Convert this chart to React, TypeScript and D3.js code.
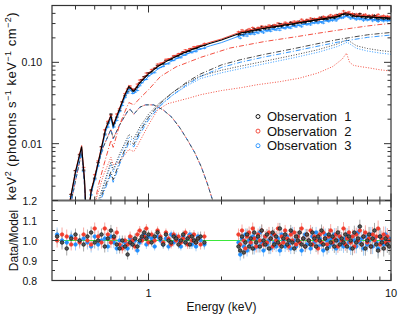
import React from 'react';
import * as d3 from 'd3';

// ---------- layout ----------
const W = 399, H = 319;
const X0 = 52, X1 = 391;
const TY0 = 5.5, TY1 = 200.5;
const BY0 = 200.5, BY1 = 280.5;

// ---------- axes / ticks ----------
const xMajorTicks = [1, 10];
const xTickLabels = ['1', '10'];
const xMinorTicks = [0.5, 0.6, 0.7, 0.8, 0.9, 2, 3, 4, 5, 6, 7, 8, 9];
const yTopMajor = [0.01, 0.1];
const yTopLabels = ['0.01', '0.10'];
const yTopMinor = [0.002, 0.003, 0.004, 0.005, 0.006, 0.007, 0.008, 0.009, 0.02, 0.03, 0.04, 0.05, 0.06, 0.07, 0.08, 0.09, 0.2, 0.3, 0.4];
const yBotMajor = [0.8, 0.9, 1.0, 1.1, 1.2];
const yBotLabels = ['0.8', '0.9', '1.0', '1.1', '1.2'];
const yBotMinor = [0.85, 0.95, 1.05, 1.15];

// ---------- series ----------
const obsNames = ['Observation  1', 'Observation  2', 'Observation  3'];
const obsColors = ['#000000', '#f23c2c', '#1f8fff'];
const obsErrColors = ['#a8a8a8', '#f7a8a2', '#a4cef7'];
const obsNorm = [1.0, 1.03, 0.93];

// total model (keV^2 photons s^-1 keV^-1 cm^-2)
const totalModel: [number, number][] = [
  [0.46, 0.0012], [0.50, 0.0045], [0.53, 0.0092], [0.545, 0.0035], [0.553, 0.0013], [0.565, 0.0013],
  [0.58, 0.0026], [0.60, 0.0038], [0.63, 0.0072], [0.665, 0.0150], [0.70, 0.0220], [0.715, 0.0165],
  [0.75, 0.0240], [0.80, 0.0400], [0.83, 0.0505], [0.87, 0.0440], [0.92, 0.0560], [1.00, 0.0720],
  [1.10, 0.0900], [1.20, 0.1050], [1.35, 0.1250], [1.50, 0.1430], [1.64, 0.1570], [1.80, 0.1720],
  [2.00, 0.1880], [2.40, 0.2300], [3.00, 0.2620], [4.00, 0.3000], [5.00, 0.3350], [6.00, 0.3650],
  [6.40, 0.3950], [6.70, 0.3900], [7.10, 0.3720], [8.00, 0.3620], [9.00, 0.3550], [10.0, 0.3500],
];

// soft component (dashed, all observations)
const softComp: [number, number][] = [
  [0.46, 0.0010], [0.50, 0.0035], [0.53, 0.0078], [0.545, 0.0030], [0.553, 0.0012], [0.562, 0.0012],
  [0.58, 0.0026], [0.60, 0.0040], [0.65, 0.0090], [0.70, 0.0150], [0.715, 0.0115], [0.76, 0.0170],
  [0.82, 0.0250], [0.84, 0.0265], [0.87, 0.0230], [0.92, 0.0280], [0.97, 0.0300], [1.05, 0.0300],
  [1.15, 0.0260], [1.25, 0.0210], [1.35, 0.0155], [1.45, 0.0110], [1.55, 0.0078], [1.65, 0.0052],
  [1.75, 0.0032], [1.85, 0.0019], [1.95, 0.0011],
];

// hard dotted component (obs 1 & 3)
const hardDotted: [number, number][] = [
  [0.60, 0.0015], [0.65, 0.0030], [0.70, 0.0060], [0.715, 0.0048], [0.76, 0.0075], [0.83, 0.0130],
  [0.87, 0.0115], [0.92, 0.0160], [1.00, 0.0230], [1.10, 0.0310], [1.25, 0.0420], [1.45, 0.0560],
  [1.64, 0.0680], [2.00, 0.0800], [2.40, 0.0900], [3.00, 0.1030], [4.00, 0.1230], [5.00, 0.1430],
  [6.00, 0.1680], [6.60, 0.1900], [7.20, 0.1600], [8.00, 0.1480], [9.00, 0.1400], [10.0, 0.1350],
];

// hard dash-dot component (obs 1 & 3)
const hardDashDot: [number, number][] = [
  [0.62, 0.0018], [0.70, 0.0045], [0.715, 0.0036], [0.76, 0.0060], [0.83, 0.0110], [0.87, 0.0098],
  [0.92, 0.0140], [1.00, 0.0210], [1.10, 0.0300], [1.25, 0.0420], [1.45, 0.0580], [1.64, 0.0720],
  [2.00, 0.0930], [2.40, 0.1080], [3.00, 0.1250], [4.00, 0.1480], [5.00, 0.1700], [6.00, 0.1900],
  [7.00, 0.2050], [8.00, 0.2180], [9.00, 0.2260], [10.0, 0.2330],
];

// obs 2 components
const redDashDot: [number, number][] = [
  [0.60, 0.0018], [0.62, 0.0030], [0.66, 0.0060], [0.70, 0.0110], [0.715, 0.0090], [0.76, 0.0170],
  [0.80, 0.0250], [0.83, 0.0320], [0.87, 0.0300], [0.92, 0.0360], [1.00, 0.0460], [1.12, 0.0670],
  [1.30, 0.0880], [1.64, 0.1150], [2.17, 0.1500], [3.00, 0.1800], [4.00, 0.2050], [5.00, 0.2280],
  [6.00, 0.2480], [7.00, 0.2650], [8.00, 0.2800], [9.00, 0.2920], [10.0, 0.3000],
];
const redDotted: [number, number][] = [
  [0.60, 0.0018], [0.65, 0.0040], [0.70, 0.0068], [0.715, 0.0055], [0.76, 0.0060], [0.83, 0.0085],
  [0.87, 0.0080], [0.90, 0.0094], [1.00, 0.0170], [1.09, 0.0260], [1.20, 0.0310], [1.35, 0.0340],
  [1.50, 0.0370], [1.64, 0.0400], [2.00, 0.0450], [2.40, 0.0487], [2.80, 0.0530], [3.50, 0.0580],
  [4.20, 0.0640], [5.00, 0.0740], [5.76, 0.0890], [6.30, 0.1100], [6.55, 0.1300], [6.75, 0.1000],
  [7.00, 0.0920], [7.40, 0.0890], [8.00, 0.0860], [9.00, 0.0810], [10.0, 0.0780],
];

// data energies (keV)
const energyLo = [
  0.42, 0.44, 0.46, 0.48, 0.50, 0.52, 0.54, 0.56, 0.58, 0.60,
  0.62, 0.64, 0.66, 0.68, 0.70, 0.72, 0.74, 0.76, 0.78, 0.80,
  0.82, 0.84, 0.86, 0.88, 0.90, 0.92, 0.94, 0.96, 0.98, 1.00,
  1.03, 1.06, 1.09, 1.12, 1.15, 1.18, 1.21, 1.24, 1.27, 1.30,
  1.33, 1.36, 1.39, 1.42, 1.45, 1.48, 1.51, 1.54, 1.57, 1.60,
  1.64, 1.70,
];
const energyHi = [
  2.35, 2.39, 2.43, 2.47, 2.51, 2.55, 2.60, 2.64, 2.69, 2.73,
  2.78, 2.83, 2.88, 2.93, 2.98, 3.03, 3.08, 3.14, 3.19, 3.25,
  3.30, 3.36, 3.42, 3.48, 3.54, 3.60, 3.66, 3.73, 3.79, 3.86,
  3.92, 3.99, 4.06, 4.13, 4.20, 4.28, 4.35, 4.43, 4.50, 4.58,
  4.66, 4.74, 4.83, 4.91, 5.00, 5.08, 5.17, 5.26, 5.35, 5.45,
  5.54, 5.64, 5.74, 5.84, 5.94, 6.04, 6.15, 6.26, 6.37, 6.48,
  6.59, 6.71, 6.82, 6.94, 7.06, 7.19, 7.31, 7.44, 7.57, 7.70,
  7.84, 7.98, 8.12, 8.26, 8.40, 8.55, 8.70, 8.85, 9.01, 9.17,
  9.33, 9.50, 9.66, 9.83,
];

// data/model ratios
const ratioLo1 = [
  1.02, 0.99, 0.96, 1.01, 1.03, 1.00, 0.98, 1.02, 1.04, 0.99,
  1.00, 1.03, 0.97, 1.01, 1.05, 1.02, 0.98, 0.96, 1.00, 0.97,
  0.93, 0.99, 0.98, 1.01, 0.97, 1.00, 1.02, 1.04, 1.01, 1.03,
  0.99, 1.02, 1.04, 1.01, 0.98, 1.03, 1.00, 0.99, 1.02, 1.01,
  0.98, 1.00, 1.03, 0.99, 1.01, 0.98, 1.02, 1.00, 0.99, 1.01,
  1.02, 0.99,
];
const ratioLo2 = [
  1.00, 1.03, 1.02, 0.98, 1.01, 0.99, 1.03, 1.00, 0.98, 1.06,
  1.02, 0.99, 1.06, 1.03, 0.99, 1.01, 1.04, 0.98, 0.96, 1.00,
  0.98, 1.02, 1.00, 0.97, 1.03, 1.05, 1.00, 1.02, 1.06, 0.99,
  1.03, 1.00, 1.05, 1.02, 0.99, 1.04, 1.01, 0.98, 1.03, 1.00,
  1.02, 0.99, 1.01, 1.04, 0.98, 1.02, 1.00, 1.03, 0.99, 1.01,
  0.98, 1.02,
];
const ratioLo3 = [
  1.03, 1.00, 0.99, 1.02, 0.98, 1.00, 1.01, 0.99, 0.97, 1.02,
  0.98, 1.00, 1.01, 0.97, 1.02, 0.99, 0.96, 1.00, 0.97, 0.99,
  0.96, 1.01, 0.98, 1.00, 0.95, 0.99, 1.01, 1.03, 0.98, 1.02,
  1.01, 0.97, 1.02, 1.00, 0.98, 1.01, 0.97, 1.03, 0.99, 1.02,
  1.00, 0.97, 1.02, 0.99, 1.01, 1.03, 0.98, 1.00, 0.97, 1.02,
  1.00, 0.98,
];
const ratioHi1 = [
  0.97, 0.95, 1.02, 0.94, 0.99, 1.03, 0.97, 1.01, 0.96, 1.04,
  0.99, 1.02, 0.97, 1.05, 1.00, 0.98, 1.03, 0.96, 1.01, 1.04,
  0.98, 1.02, 0.99, 1.06, 0.97, 1.01, 1.03, 0.98, 1.00, 1.05,
  0.99, 0.96, 1.02, 1.00, 1.04, 0.98, 1.01, 0.97, 1.03, 1.00,
  0.98, 1.04, 1.01, 0.97, 1.02, 1.00, 1.05, 0.98, 1.01, 0.96,
  1.03, 0.99, 1.02, 0.97, 1.00, 1.04, 0.98, 1.01, 0.99, 1.03,
  0.97, 1.02, 1.00, 0.96, 1.04, 0.99, 1.01, 1.07, 0.98, 1.02,
  0.96, 1.00, 1.03, 0.97, 1.01, 1.05, 0.98, 0.95, 1.02, 0.99,
  0.96, 1.01, 0.98, 0.97,
];
const ratioHi2 = [
  1.03, 0.98, 1.05, 1.00, 0.96, 1.02, 1.04, 0.99, 1.06, 1.01,
  0.97, 1.03, 1.00, 1.05, 0.98, 1.02, 0.99, 1.04, 1.01, 0.97,
  1.03, 1.00, 1.06, 0.98, 1.02, 0.99, 1.05, 1.01, 0.97, 1.03,
  1.00, 1.04, 0.98, 1.02, 0.99, 1.06, 1.01, 0.97, 1.03, 1.00,
  1.05, 0.98, 1.02, 1.00, 0.96, 1.03, 0.99, 1.04, 1.01, 0.98,
  1.02, 1.05, 0.99, 1.01, 1.03, 0.97, 1.02, 1.00, 1.06, 0.98,
  1.01, 1.04, 0.99, 1.02, 0.97, 1.03, 1.00, 1.05, 0.98, 1.02,
  1.04, 0.99, 1.01, 0.97, 1.03, 1.00, 1.02, 1.06, 0.98, 1.01,
  1.03, 0.99, 1.02, 1.00,
];
const ratioHi3 = [
  0.99, 0.93, 1.01, 0.97, 1.03, 0.95, 1.00, 0.98, 1.02, 0.96,
  1.01, 0.97, 1.04, 0.99, 0.95, 1.02, 0.98, 1.00, 0.96, 1.03,
  0.99, 0.97, 1.01, 0.95, 1.03, 1.00, 0.97, 1.02, 0.98, 0.96,
  1.04, 1.00, 0.97, 1.02, 0.99, 0.95, 1.01, 1.03, 0.98, 1.00,
  0.96, 1.02, 0.99, 1.04, 0.97, 1.01, 0.98, 0.95, 1.03, 1.00,
  0.97, 1.01, 0.98, 1.03, 0.96, 1.00, 1.02, 0.98, 0.97, 1.01,
  1.03, 0.99, 0.96, 1.02, 1.00, 0.97, 1.04, 0.99, 1.01, 0.96,
  1.02, 0.98, 1.00, 1.03, 0.97, 1.01, 0.99, 0.96, 1.02, 1.00,
  0.98, 1.03, 0.99, 1.01,
];

// 1-sigma ratio errors
const errLo = [
  0.035, 0.035, 0.035, 0.030, 0.030, 0.030, 0.035, 0.035, 0.030, 0.030,
  0.030, 0.030, 0.030, 0.028, 0.028, 0.028, 0.028, 0.025, 0.025, 0.025,
  0.025, 0.025, 0.025, 0.025, 0.022, 0.022, 0.022, 0.022, 0.022, 0.020,
  0.020, 0.020, 0.020, 0.020, 0.020, 0.020, 0.020, 0.020, 0.020, 0.020,
  0.020, 0.020, 0.020, 0.020, 0.022, 0.022, 0.022, 0.022, 0.024, 0.024,
  0.025, 0.025,
];
const errHi = [
  0.030, 0.030, 0.030, 0.030, 0.030, 0.030, 0.030, 0.030, 0.030, 0.030,
  0.030, 0.030, 0.030, 0.030, 0.030, 0.028, 0.028, 0.028, 0.028, 0.028,
  0.028, 0.028, 0.028, 0.028, 0.028, 0.028, 0.028, 0.028, 0.028, 0.028,
  0.028, 0.028, 0.028, 0.028, 0.028, 0.028, 0.028, 0.028, 0.028, 0.028,
  0.028, 0.028, 0.028, 0.028, 0.030, 0.030, 0.030, 0.030, 0.030, 0.030,
  0.032, 0.032, 0.032, 0.032, 0.032, 0.032, 0.032, 0.032, 0.032, 0.032,
  0.032, 0.032, 0.032, 0.034, 0.034, 0.034, 0.034, 0.034, 0.036, 0.036,
  0.036, 0.036, 0.038, 0.038, 0.038, 0.038, 0.038, 0.040, 0.040, 0.040,
  0.040, 0.040, 0.042, 0.042,
];

// ---------- helpers ----------
function modelAt(pts: [number, number][], E: number): number {
  if (E <= pts[0][0]) return pts[0][1];
  for (let i = 1; i < pts.length; i++) {
    if (E <= pts[i][0]) {
      const [e0, v0] = pts[i - 1];
      const [e1, v1] = pts[i];
      const t = Math.log(E / e0) / Math.log(e1 / e0);
      return Math.exp(Math.log(v0) + t * Math.log(v1 / v0));
    }
  }
  return pts[pts.length - 1][1];
}

const FONT = '"Liberation Sans", Arial, Helvetica, sans-serif';

export default function App() {
  const x = d3.scaleLog().domain([0.4, 10]).range([X0, X1]);
  const yT = d3.scaleLog().domain([0.002, 0.5]).range([TY1, TY0]);
  const yB = d3.scaleLinear().domain([0.8, 1.2]).range([BY1, BY0]);

  const line = (pts: [number, number][], k = 1) =>
    d3.line<[number, number]>()
      .x(d => x(d[0]))
      .y(d => yT(Math.max(d[1] * k, 1e-4)))(pts) || '';

  const energies = [...energyLo, ...energyHi];
  const ratios = [
    [...ratioLo1, ...ratioHi1],
    [...ratioLo2, ...ratioHi2],
    [...ratioLo3, ...ratioHi3],
  ];
  const errs = [...errLo, ...errHi];

  const drawOrder = [2, 1, 0];

  const comps: { d: string; color: string; dash: string; off?: number }[] = [
    { d: line(softComp), color: obsColors[1], dash: '3,4', off: 3 },
    { d: line(softComp), color: obsColors[2], dash: '3,4', off: 1.5 },
    { d: line(softComp), color: '#3a3a3a', dash: '3,4', off: 0 },
    { d: line(redDotted), color: obsColors[1], dash: '1,1.6' },
    { d: line(redDashDot), color: obsColors[1], dash: '5,2,1,2' },
    { d: line(hardDotted, obsNorm[2]), color: obsColors[2], dash: '1,1.6' },
    { d: line(hardDashDot, obsNorm[2]), color: obsColors[2], dash: '5,2,1,2' },
    { d: line(hardDotted), color: '#333', dash: '1,1.6' },
    { d: line(hardDashDot), color: '#333', dash: '5,2,1,2' },
  ];

  const axisColor = '#333';

  return (
    <svg width={W} height={H} style={{ position: 'absolute', left: 0, top: 0, background: '#fff' }}
      fontFamily={FONT}>
      <defs>
        <clipPath id="clipTop"><rect x={X0} y={TY0} width={X1 - X0} height={TY1 - TY0} /></clipPath>
        <clipPath id="clipBot"><rect x={X0} y={BY0} width={X1 - X0} height={BY1 - BY0} /></clipPath>
      </defs>

      {/* ---------- top panel ---------- */}
      <g clipPath="url(#clipTop)">
        {comps.map((c, i) => (
          <path key={i} d={c.d} fill="none" stroke={c.color} strokeWidth={0.9}
            strokeDasharray={c.dash} strokeDashoffset={c.off || 0} />
        ))}
        {drawOrder.map(o => (
          <g key={'td' + o} stroke={obsColors[o]} strokeWidth={0.8}>
            {energies.map((E, i) => {
              const m = modelAt(totalModel, E) * obsNorm[o];
              const v = m * ratios[o][i];
              const e = m * errs[i];
              const cx = x(E), cy = yT(v);
              return (
                <g key={i}>
                  <line x1={cx} x2={cx} y1={yT(Math.max(v - e, 1e-4))} y2={yT(v + e)} />
                  <line x1={cx - 1.8} x2={cx + 1.8} y1={cy} y2={cy} />
                </g>
              );
            })}
          </g>
        ))}
        {drawOrder.map(o => (
          <path key={'tm' + o} d={line(totalModel, obsNorm[o])} fill="none"
            stroke={obsColors[o]} strokeWidth={o === 0 ? 1.1 : 0.9} />
        ))}
      </g>

      {/* ---------- bottom panel ---------- */}
      <g clipPath="url(#clipBot)">
        {drawOrder.map(o => (
          <g key={'be' + o} stroke={obsErrColors[o]} strokeWidth={1}>
            {energies.map((E, i) => {
              const cx = x(E);
              const r = ratios[o][i];
              return (
                <g key={i}>
                  <line x1={cx} x2={cx} y1={yB(r - errs[i])} y2={yB(r + errs[i])} />
                  <line x1={cx - 1.6} x2={cx + 1.6} y1={yB(r)} y2={yB(r)} />
                </g>
              );
            })}
          </g>
        ))}
        <line x1={X0} x2={X1} y1={yB(1)} y2={yB(1)} stroke="#3be83b" strokeWidth={1.2} />
        {drawOrder.map(o => (
          <g key={'bm' + o}>
            {energies.map((E, i) => (
              <circle key={i} cx={x(E)} cy={yB(ratios[o][i])} r={1.8}
                fill={o === 0 ? '#555' : obsColors[o]} stroke={o === 0 ? '#111' : obsColors[o]} strokeWidth={0.7} />
            ))}
          </g>
        ))}
      </g>

      {/* ---------- frames ---------- */}
      <rect x={X0} y={TY0} width={X1 - X0} height={BY1 - TY0} fill="none" stroke={axisColor} strokeWidth={1.2} />
      <line x1={X0} x2={X1} y1={BY0} y2={BY0} stroke="#666" strokeWidth={2} />

      {/* x ticks */}
      {[...xMajorTicks.map(v => ({ v, L: 7 })), ...xMinorTicks.map(v => ({ v, L: 4 }))].map((t, i) => {
        const px = x(t.v);
        return (
          <g key={'xt' + i} stroke={axisColor} strokeWidth={1}>
            <line x1={px} x2={px} y1={TY0} y2={TY0 + t.L} />
            <line x1={px} x2={px} y1={TY1} y2={TY1 - t.L} />
            <line x1={px} x2={px} y1={BY0} y2={BY0 + t.L} />
            <line x1={px} x2={px} y1={BY1} y2={BY1 - t.L} />
          </g>
        );
      })}
      {xMajorTicks.map((v, i) => (
        <text key={'xl' + i} x={x(v)} y={297} fontSize={11} textAnchor="middle" fill="#111">{xTickLabels[i]}</text>
      ))}

      {/* y ticks top */}
      {[...yTopMajor.map(v => ({ v, L: 7 })), ...yTopMinor.map(v => ({ v, L: 3.5 }))].map((t, i) => {
        const py = yT(t.v);
        return (
          <g key={'yt' + i} stroke={axisColor} strokeWidth={1}>
            <line x1={X0} x2={X0 + t.L} y1={py} y2={py} />
            <line x1={X1} x2={X1 - t.L} y1={py} y2={py} />
          </g>
        );
      })}
      {yTopMajor.map((v, i) => (
        <text key={'ytl' + i} x={42} y={yT(v) + 4} fontSize={10.5} textAnchor="end" fill="#111">{yTopLabels[i]}</text>
      ))}

      {/* y ticks bottom */}
      {[...yBotMajor.map(v => ({ v, L: 6 })), ...yBotMinor.map(v => ({ v, L: 3 }))].map((t, i) => {
        const py = yB(t.v);
        return (
          <g key={'yb' + i} stroke={axisColor} strokeWidth={1}>
            <line x1={X0} x2={X0 + t.L} y1={py} y2={py} />
            <line x1={X1} x2={X1 - t.L} y1={py} y2={py} />
          </g>
        );
      })}
      {yBotMajor.map((v, i) => (
        <text key={'ybl' + i} x={37} y={yB(v) + 4} fontSize={10.5} textAnchor="end" fill="#111">{yBotLabels[i]}</text>
      ))}

      {/* axis titles */}
      <text x={(X0 + X1) / 2} y={311} fontSize={12} textAnchor="middle" fill="#111">Energy (keV)</text>
      <text transform={`translate(16,${(TY0 + TY1) / 2 + 3}) rotate(-90)`} fontSize={13} letterSpacing={0.5} textAnchor="middle" fill="#111">
        keV<tspan dy={-5} fontSize={9}>2</tspan><tspan dy={5}> (photons s</tspan><tspan dy={-5} fontSize={9}>−1</tspan><tspan dy={5}> keV</tspan><tspan dy={-5} fontSize={9}>−1</tspan><tspan dy={5}> cm</tspan><tspan dy={-5} fontSize={9}>−2</tspan><tspan dy={5}>)</tspan>
      </text>
      <text transform={`translate(18,${(BY0 + BY1) / 2}) rotate(-90)`} fontSize={12} textAnchor="middle" fill="#111">Data/Model</text>

      {/* legend */}
      {obsNames.map((n, i) => (
        <g key={'lg' + i}>
          <circle cx={258} cy={116.5 + i * 14.6} r={2} fill="none" stroke={obsColors[i]} strokeWidth={0.9} />
          <text x={267} y={116.5 + i * 14.6 + 4.5} fontSize={13} fill="#111" style={{ whiteSpace: 'pre' }}>{n}</text>
        </g>
      ))}
    </svg>
  );
}
